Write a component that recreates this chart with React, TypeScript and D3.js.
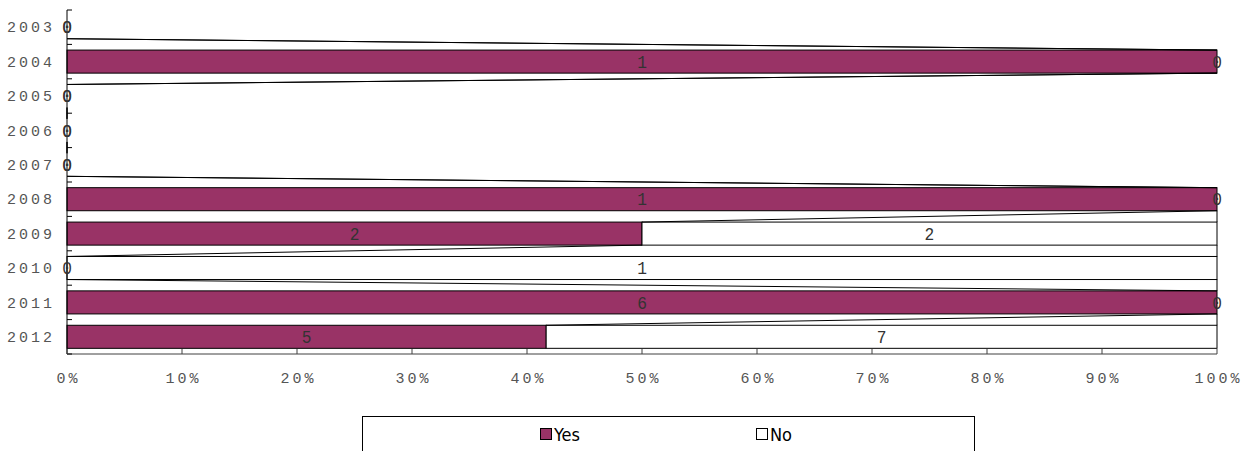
import React from "react";
import * as d3 from "d3";

const years = ["2003", "2004", "2005", "2006", "2007", "2008", "2009", "2010", "2011", "2012"];
const yesValues = [0, 1, 0, 0, 0, 1, 2, 0, 6, 5];
const noValues = [0, 0, 0, 0, 0, 0, 2, 1, 0, 7];
const xTicks = [0, 0.1, 0.2, 0.3, 0.4, 0.5, 0.6, 0.7, 0.8, 0.9, 1.0];
const seriesNames = ["Yes", "No"];
const seriesColors = ["#993366", "#ffffff"];

const W = 1254;
const H = 451;
const left = 67;
const right = 1217;
const top = 10;
const bottom = 354;

export default function App() {
  const x = d3.scaleLinear().domain([0, 1]).range([left, right]);
  const y = d3
    .scaleBand<string>()
    .domain(years)
    .range([top, bottom])
    .paddingInner(0.33)
    .paddingOuter(0.165);

  const rows = years.map((yr, i) => {
    const total = yesValues[i] + noValues[i];
    const yesEnd = total > 0 ? yesValues[i] / total : 0;
    const noEnd = total > 0 ? 1 : 0;
    return { yr, total, yes: yesValues[i], no: noValues[i], yesEnd, noEnd };
  });

  const bw = y.bandwidth();
  const step = y.step();
  const mono = "'Liberation Mono', 'DejaVu Sans Mono', monospace";

  const seriesLines: { x1: number; y1: number; x2: number; y2: number }[] = [];
  for (let i = 0; i < rows.length - 1; i++) {
    const a = rows[i];
    const b = rows[i + 1];
    const yA = (y(a.yr) as number) + bw;
    const yB = y(b.yr) as number;
    seriesLines.push({ x1: x(a.yesEnd), y1: yA, x2: x(b.yesEnd), y2: yB });
    seriesLines.push({ x1: x(a.noEnd), y1: yA, x2: x(b.noEnd), y2: yB });
  }

  const valueLabel = (key: string, xx: number, cy: number, v: number) => (
    <text
      key={key}
      x={xx}
      y={cy}
      dy="0.35em"
      textAnchor="middle"
      fontFamily={mono}
      fontSize={18}
      fill="#333"
      transform={`translate(${xx},0) scale(0.9,1) translate(${-xx},0)`}
    >
      {v}
    </text>
  );

  return (
    <svg
      width={W}
      height={H}
      style={{ position: "absolute", left: 0, top: 0, background: "#fff" }}
    >
      <rect x={0} y={0} width={W} height={H} fill="#fff" />
      {/* bars */}
      {rows.map((r) => {
        const yy = y(r.yr) as number;
        return (
          <g key={r.yr}>
            {r.total > 0 && r.yes > 0 && (
              <rect
                x={x(0)}
                y={yy}
                width={x(r.yesEnd) - x(0)}
                height={bw}
                fill={seriesColors[0]}
                stroke="#000"
                strokeWidth={1}
              />
            )}
            {r.total > 0 && r.no > 0 && (
              <rect
                x={x(r.yesEnd)}
                y={yy}
                width={x(r.noEnd) - x(r.yesEnd)}
                height={bw}
                fill={seriesColors[1]}
                stroke="#000"
                strokeWidth={1}
              />
            )}
          </g>
        );
      })}
      {/* series lines */}
      {seriesLines.map((l, i) => (
        <line key={i} x1={l.x1} y1={l.y1} x2={l.x2} y2={l.y2} stroke="#000" strokeWidth={1} />
      ))}
      {/* axes */}
      <line x1={left} y1={top} x2={left} y2={bottom} stroke="#000" strokeWidth={1} />
      <line x1={left} y1={bottom} x2={right} y2={bottom} stroke="#404040" strokeWidth={1} />
      {d3.range(years.length + 1).map((k) => {
        const yy = top + k * step;
        return <line key={k} x1={left} x2={left + 5} y1={yy} y2={yy} stroke="#000" strokeWidth={1} />;
      })}
      {xTicks.map((t) => (
        <line key={t} x1={x(t)} x2={x(t)} y1={bottom} y2={bottom - 5} stroke="#404040" strokeWidth={1} />
      ))}
      {/* y labels */}
      {rows.map((r) => (
        <text
          key={r.yr}
          x={55}
          y={(y(r.yr) as number) + bw / 2}
          dy="0.35em"
          textAnchor="end"
          fontFamily={mono}
          fontSize={15}
          letterSpacing={3}
          fill="#555"
        >
          {r.yr}
        </text>
      ))}
      {/* x labels */}
      {xTicks.map((t) => (
        <text
          key={t}
          x={x(t) + 1.5}
          y={378}
          dy="0.35em"
          textAnchor="middle"
          fontFamily={mono}
          fontSize={15}
          letterSpacing={3}
          fill="#555"
        >
          {d3.format(".0%")(t)}
        </text>
      ))}
      {/* value labels */}
      {rows.map((r) => {
        const cy = (y(r.yr) as number) + bw / 2;
        return (
          <g key={r.yr}>
            {valueLabel("y" + r.yr, x(r.yesEnd / 2), cy, r.yes)}
            {valueLabel("n" + r.yr, x((r.yesEnd + r.noEnd) / 2), cy, r.no)}
          </g>
        );
      })}
      {/* legend */}
      <rect x={362.5} y={416.5} width={612} height={60} fill="none" stroke="#000" strokeWidth={1} />
      {seriesNames.map((name, i) => {
        const lx = i === 0 ? 540 : 756;
        return (
          <g key={name}>
            <rect x={lx + 0.5} y={428.5} width={11} height={11} fill={seriesColors[i]} stroke="#000" strokeWidth={1} />
            <text
              x={lx + 14}
              y={434.5}
              dy="0.35em"
              fontFamily="'DejaVu Sans Condensed', 'Liberation Sans', sans-serif"
              fontSize={18}
              fill="#000"
            >
              {name}
            </text>
          </g>
        );
      })}
    </svg>
  );
}
